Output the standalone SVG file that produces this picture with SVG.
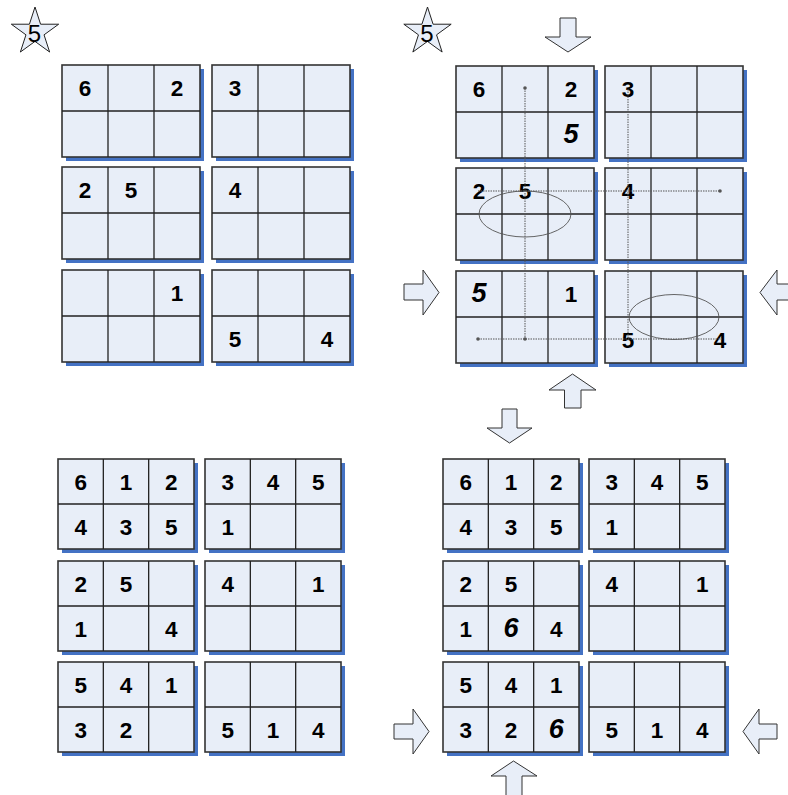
<svg xmlns="http://www.w3.org/2000/svg" xmlns:xlink="http://www.w3.org/1999/xlink" width="788" height="795" viewBox="0 0 788 795">
<style>
.sh{fill:#4472C4}
.bx{fill:#E8EEF8;stroke:#333;stroke-width:1.6}
.gl{stroke:#222;stroke-width:1.3}
.n{font-family:"Liberation Sans",Arial,sans-serif;font-weight:bold;font-size:22.5px;text-anchor:middle;fill:#000}
.ni{font-family:"Liberation Sans",Arial,sans-serif;font-weight:bold;font-style:italic;font-size:27px;text-anchor:middle;fill:#000}
.st{fill:#E8EEF8;stroke:#222;stroke-width:1}
.stt{font-family:"Liberation Sans",Arial,sans-serif;font-size:24px;text-anchor:middle;fill:#000}
.ar{fill:#E8EEF8;stroke:#333;stroke-width:1}
.dl{stroke:#555;stroke-width:1;stroke-dasharray:1.5,1;fill:none}
.el{stroke:#555;stroke-width:0.9;fill:none}
.dt{fill:#555}
</style>
<defs>
<g id="boxA">
<rect class="sh" x="4" y="4" width="138" height="92"/>
<rect class="bx" x="0" y="0" width="138" height="92"/>
<path class="gl" d="M46,0V92M92,0V92M0,46H138"/>
</g>
<g id="boxB">
<rect class="sh" x="4" y="4" width="136" height="90"/>
<rect class="bx" x="0" y="0" width="136" height="90"/>
<path class="gl" d="M45.33,0V90M90.67,0V90M0,45H136"/>
</g>
<path id="star" d="M35,7 L40.58,24.21 L58.68,24.21 L44.04,34.84 L49.64,52.04 L35,41.4 L20.36,52.04 L25.96,34.84 L11.32,24.21 L29.42,24.21 Z"/>
</defs>

<g id="star-left">
<use xlink:href="#star" class="st"/>
<text class="stt" x="34.5" y="42">5</text>
</g>
<g id="star-right">
<use xlink:href="#star" class="st" transform="translate(392.5,0)"/>
<text class="stt" x="427" y="42">5</text>
</g>

<!-- Top-left quadrant -->
<g id="tl-b1"><use xlink:href="#boxA" x="62" y="65"/>
<text class="n" x="85" y="96">6</text><text class="n" x="177" y="96">2</text></g>
<g id="tl-b2"><use xlink:href="#boxA" x="212" y="65"/>
<text class="n" x="235" y="96">3</text></g>
<g id="tl-b3"><use xlink:href="#boxA" x="62" y="167"/>
<text class="n" x="85" y="198">2</text><text class="n" x="131" y="198">5</text></g>
<g id="tl-b4"><use xlink:href="#boxA" x="212" y="167"/>
<text class="n" x="235" y="198">4</text></g>
<g id="tl-b5"><use xlink:href="#boxA" x="62" y="270"/>
<text class="n" x="177" y="301">1</text></g>
<g id="tl-b6"><use xlink:href="#boxA" x="212" y="270"/>
<text class="n" x="235" y="347">5</text><text class="n" x="327" y="347">4</text></g>

<!-- Top-right quadrant -->
<g id="tr-b1"><use xlink:href="#boxA" x="456" y="66"/>
<text class="n" x="479" y="97">6</text><text class="n" x="571" y="97">2</text><text class="ni" x="571" y="142.5">5</text></g>
<g id="tr-b2"><use xlink:href="#boxA" x="605" y="66"/>
<text class="n" x="628" y="97">3</text></g>
<g id="tr-b3"><use xlink:href="#boxA" x="456" y="168"/>
<text class="n" x="479" y="199">2</text><text class="n" x="525" y="199">5</text></g>
<g id="tr-b4"><use xlink:href="#boxA" x="605" y="168"/>
<text class="n" x="628" y="199">4</text></g>
<g id="tr-b5"><use xlink:href="#boxA" x="456" y="271"/>
<text class="ni" x="479" y="302">5</text><text class="n" x="571" y="302">1</text></g>
<g id="tr-b6"><use xlink:href="#boxA" x="605" y="271"/>
<text class="n" x="628" y="347.5">5</text><text class="n" x="720" y="347.5">4</text></g>

<!-- Bottom-left quadrant -->
<g id="bl-b1"><use xlink:href="#boxB" x="58" y="459"/>
<text class="n" x="80.7" y="489.5">6</text><text class="n" x="126" y="489.5">1</text><text class="n" x="171.3" y="489.5">2</text>
<text class="n" x="80.7" y="534.5">4</text><text class="n" x="126" y="534.5">3</text><text class="n" x="171.3" y="534.5">5</text></g>
<g id="bl-b2"><use xlink:href="#boxB" x="205" y="459"/>
<text class="n" x="227.7" y="489.5">3</text><text class="n" x="273" y="489.5">4</text><text class="n" x="318.3" y="489.5">5</text>
<text class="n" x="227.7" y="534.5">1</text></g>
<g id="bl-b3"><use xlink:href="#boxB" x="58" y="561"/>
<text class="n" x="80.7" y="591.5">2</text><text class="n" x="126" y="591.5">5</text>
<text class="n" x="80.7" y="636.5">1</text><text class="n" x="171.3" y="636.5">4</text></g>
<g id="bl-b4"><use xlink:href="#boxB" x="205" y="561"/>
<text class="n" x="227.7" y="591.5">4</text><text class="n" x="318.3" y="591.5">1</text></g>
<g id="bl-b5"><use xlink:href="#boxB" x="58" y="662"/>
<text class="n" x="80.7" y="692.5">5</text><text class="n" x="126" y="692.5">4</text><text class="n" x="171.3" y="692.5">1</text>
<text class="n" x="80.7" y="737.5">3</text><text class="n" x="126" y="737.5">2</text></g>
<g id="bl-b6"><use xlink:href="#boxB" x="205" y="662"/>
<text class="n" x="227.7" y="737.5">5</text><text class="n" x="273" y="737.5">1</text><text class="n" x="318.3" y="737.5">4</text></g>

<!-- Bottom-right quadrant -->
<g id="br-b1"><use xlink:href="#boxB" x="443" y="459"/>
<text class="n" x="465.7" y="489.5">6</text><text class="n" x="511" y="489.5">1</text><text class="n" x="556.3" y="489.5">2</text>
<text class="n" x="465.7" y="534.5">4</text><text class="n" x="511" y="534.5">3</text><text class="n" x="556.3" y="534.5">5</text></g>
<g id="br-b2"><use xlink:href="#boxB" x="589" y="459"/>
<text class="n" x="611.7" y="489.5">3</text><text class="n" x="657" y="489.5">4</text><text class="n" x="702.3" y="489.5">5</text>
<text class="n" x="611.7" y="534.5">1</text></g>
<g id="br-b3"><use xlink:href="#boxB" x="443" y="561"/>
<text class="n" x="465.7" y="591.5">2</text><text class="n" x="511" y="591.5">5</text>
<text class="n" x="465.7" y="636.5">1</text><text class="ni" x="511" y="637">6</text><text class="n" x="556.3" y="636.5">4</text></g>
<g id="br-b4"><use xlink:href="#boxB" x="589" y="561"/>
<text class="n" x="611.7" y="591.5">4</text><text class="n" x="702.3" y="591.5">1</text></g>
<g id="br-b5"><use xlink:href="#boxB" x="443" y="662"/>
<text class="n" x="465.7" y="692.5">5</text><text class="n" x="511" y="692.5">4</text><text class="n" x="556.3" y="692.5">1</text>
<text class="n" x="465.7" y="737.5">3</text><text class="n" x="511" y="737.5">2</text><text class="ni" x="556.3" y="738">6</text></g>
<g id="br-b6"><use xlink:href="#boxB" x="589" y="662"/>
<text class="n" x="611.7" y="737.5">5</text><text class="n" x="657" y="737.5">1</text><text class="n" x="702.3" y="737.5">4</text></g>

<!-- Arrows -->
<g id="arrows">
<path class="ar" d="M560,18H576V37H591L568,52L545,37H560Z"/>
<path class="ar" d="M404,284H423V270L439,292.5L423,315V300H404Z"/>
<path class="ar" d="M793,284H777V270L760,292.5L777,315V300H793Z"/>
<path class="ar" d="M564.5,408V390H549L572.5,374L596,390H581V408Z"/>
<path class="ar" d="M502,409H517V428H532L509.5,443L487,428H502Z"/>
<path class="ar" d="M394,724H413V709L429,731.5L413,754V739H394Z"/>
<path class="ar" d="M777,724H759V709L743,731.5L759,754V739H777Z"/>
<path class="ar" d="M506,797V776H491L513.5,761L537,776H522V797Z"/>
</g>

<!-- Connectors -->
<g id="connectors">
<path class="dl" d="M525,88V339"/>
<path class="dl" d="M628,89V340"/>
<path class="dl" d="M478,191H720"/>
<path class="dl" d="M478,339H722"/>
<ellipse class="el" cx="525" cy="214" rx="46" ry="23"/>
<ellipse class="el" cx="674" cy="317" rx="45" ry="22.5"/>
<circle class="dt" cx="525" cy="88" r="1.8"/>
<circle class="dt" cx="720" cy="191" r="1.8"/>
<circle class="dt" cx="478" cy="339" r="1.8"/>
<circle class="dt" cx="525" cy="339" r="1.8"/>
</g>
</svg>
